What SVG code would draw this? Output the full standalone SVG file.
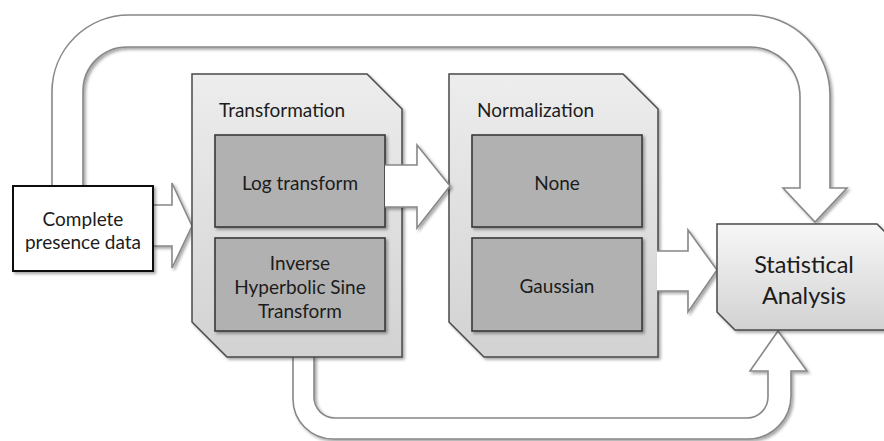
<svg xmlns="http://www.w3.org/2000/svg" width="884" height="441" viewBox="0 0 884 441">
<defs>
<filter id="sh" x="-10%" y="-10%" width="130%" height="130%">
<feDropShadow dx="2" dy="2" stdDeviation="1.8" flood-color="#000" flood-opacity="0.35"/>
</filter>
<linearGradient id="grp" x1="0" y1="0" x2="0" y2="1">
<stop offset="0" stop-color="#ededed"/>
<stop offset="1" stop-color="#d2d2d2"/>
</linearGradient>
<linearGradient id="st" x1="0" y1="0" x2="0" y2="1">
<stop offset="0" stop-color="#f7f7f7"/>
<stop offset="1" stop-color="#d2d2d2"/>
</linearGradient>
</defs>
<style>
.arr{fill:#fff;stroke:#888;stroke-width:1.6;stroke-linejoin:miter;filter:url(#sh)}
.grp{fill:url(#grp);stroke:#4a4a4a;stroke-width:1.5;filter:url(#sh)}
.inner{fill:#b1b1b1;stroke:#3a3a3a;stroke-width:1.6;filter:url(#sh)}
.t{font-family:Lato,"Liberation Sans",sans-serif;font-size:19px;fill:#1c1c1c}
.c{text-anchor:middle}
.big{font-size:23.5px}
</style>
<rect width="884" height="441" fill="#fff"/>
<g id="connectors">
<path class="arr" d="M 52,187 L 52,92 A 77,77 0 0 1 129,15 L 750,15 A 80,80 0 0 1 830,95 L 830,188 L 847,188 L 815,222 L 783,188 L 800,188 L 800,97 A 50,50 0 0 0 750,47 L 127,47 A 44,44 0 0 0 83,91 L 83,187"/>
<path class="arr" d="M 293,356 L 293,399 A 40,40 0 0 0 333,439 L 748,439 A 43,43 0 0 0 791,396 L 791,371 L 807,371 L 778,331 L 750,371 L 768,371 L 768,397 A 21,21 0 0 1 747,418 L 335,418 A 21,21 0 0 1 314,397 L 314,356"/>
<path class="arr" d="M 153,205 L 172,205 L 172,183 L 192,226 L 172,268 L 172,246 L 153,246"/>
</g>
<g id="complete">
<rect x="13" y="186" width="140" height="85" fill="#fff" stroke="#111" stroke-width="2" filter="url(#sh)"/>
<text class="t c" x="83" y="226">Complete</text>
<text class="t c" x="83" y="249">presence data</text>
</g>
<g id="transformation">
<polygon class="grp" points="192,74 367,74 402,109 402,357 227,357 192,322"/>
<text class="t" x="219" y="117">Transformation</text>
</g>
<g id="log">
<rect class="inner" x="215" y="135" width="170" height="92"/>
<text class="t c" x="300" y="190">Log transform</text>
</g>
<g id="ihs">
<rect class="inner" x="215" y="238" width="170" height="93"/>
<text class="t c" x="300" y="270">Inverse</text>
<text class="t c" x="300" y="294">Hyperbolic Sine</text>
<text class="t c" x="300" y="318">Transform</text>
</g>
<g id="normalization">
<polygon class="grp" points="449,74 623,74 658,109 658,357 484,357 449,322"/>
<text class="t" x="477" y="117">Normalization</text>
</g>
<g id="none">
<rect class="inner" x="472" y="135" width="170" height="92"/>
<text class="t c" x="557" y="190">None</text>
</g>
<g id="gaussian">
<rect class="inner" x="472" y="238" width="170" height="93"/>
<text class="t c" x="557" y="293">Gaussian</text>
</g>
<g id="connectors2">
<path class="arr" d="M 385,165 L 417,165 L 417,145 L 450,186 L 417,228 L 417,207 L 385,207"/>
<path class="arr" d="M 657,251 L 688,251 L 688,230 L 717,270 L 688,312 L 688,291 L 657,291"/>
</g>
<g id="stats">
<polygon fill="url(#st)" stroke="#4a4a4a" stroke-width="1.5" filter="url(#sh)" points="717,224 877,224 895,242 895,330 735,330 717,312"/>
<text class="t c big" x="804" y="273">Statistical</text>
<text class="t c big" x="804" y="304">Analysis</text>
</g>
</svg>
